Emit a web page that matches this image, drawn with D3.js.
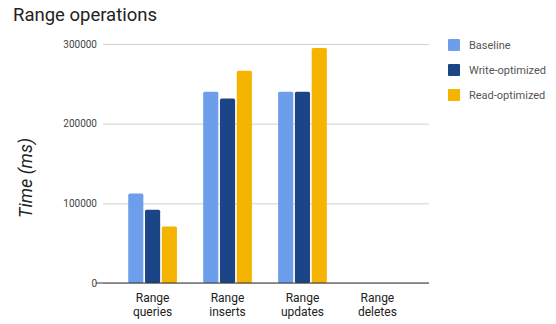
<!DOCTYPE html>
<html>
<head>
<meta charset="utf-8">
<script src="https://cdn.jsdelivr.net/npm/d3@7"></script>
<style>
  html, body { margin: 0; padding: 0; background: #fff; }
  svg { display: block; font-family: Roboto, "Noto Sans", sans-serif; }
</style>
</head>
<body>
<svg id="chart" width="556" height="324"></svg>
<script>
const categories = ["Range queries", "Range inserts", "Range updates", "Range deletes"];
const seriesNames = ["Baseline", "Write-optimized", "Read-optimized"];
const baseline = [112500, 240000, 240000, 0];
const writeOptimized = [92000, 231500, 240000, 0];
const readOptimized = [71000, 266500, 295000, 0];
const yTicks = [0, 100000, 200000, 300000];
const colors = ["#6d9eeb", "#1c4587", "#f4b400"];

const seriesValues = [baseline, writeOptimized, readOptimized];

const svg = d3.select("#chart");
const plotLeft = 103, plotRight = 429, plotTop = 44, plotBottom = 283;

const x = d3.scaleBand().domain(categories).range([102, 428]).paddingInner(0.35).paddingOuter(0.35);
const x1 = d3.scaleBand().domain(seriesNames).range([0, x.bandwidth()]).paddingInner(0.1);
const y = d3.scaleLinear().domain([0, 300000]).range([plotBottom, plotTop]);

// Title
svg.append("text").attr("x", 13).attr("y", 21)
  .attr("font-size", 18.5).attr("fill", "#222").text("Range operations");

// Gridlines
const yAxis = d3.axisLeft(y).tickValues(yTicks).tickSize(0).tickPadding(6).tickFormat(d3.format("d"));
const gy = svg.append("g").attr("transform", `translate(${plotLeft},0)`).call(yAxis);
gy.select(".domain").remove();
gy.selectAll(".tick text").attr("font-size", 10).attr("fill", "#444").attr("font-family", "Roboto, sans-serif");
gy.selectAll(".tick").append("line")
  .attr("x1", 0).attr("x2", plotRight - plotLeft)
  .attr("stroke", "#d0d0d0").attr("stroke-width", 1);

// Bars
const groups = svg.append("g").selectAll("g").data(categories).join("g")
  .attr("transform", d => `translate(${x(d)},0)`);
groups.selectAll("rect").data((c, i) => seriesNames.map((s, j) => ({ s, j, v: seriesValues[j][i] })))
  .join("rect")
  .attr("x", d => x1(d.s))
  .attr("width", x1.bandwidth())
  .attr("y", d => y(d.v))
  .attr("height", d => y(0) - y(d.v))
  .attr("rx", 1.5)
  .attr("fill", d => colors[d.j]);

// Baseline axis
const xAxis = d3.axisBottom(x).tickSize(0).tickPadding(10);
const gx = svg.append("g").attr("transform", `translate(0,${plotBottom})`).call(xAxis);
gx.select(".domain").remove();
gx.append("line").attr("x1", plotLeft - 7).attr("x2", plotRight)
  .attr("stroke", "#333").attr("stroke-width", 1.2);
gx.selectAll(".tick text").each(function(d) {
  const t = d3.select(this);
  const parts = d.split(" ");
  t.text(null).attr("font-size", 12).attr("fill", "#222").attr("font-family", "Roboto, sans-serif");
  parts.forEach((p, k) => {
    t.append("tspan").attr("x", 0).attr("dy", k === 0 ? "0.71em" : "1.2em").text(p);
  });
});

// Y axis title
svg.append("text")
  .attr("transform", "translate(32,178) rotate(-90)")
  .attr("text-anchor", "middle")
  .attr("font-size", 18).attr("font-style", "italic").attr("fill", "#222")
  .text("Time (ms)");

// Legend
const legend = svg.append("g").selectAll("g").data(seriesNames).join("g")
  .attr("transform", (d, i) => `translate(448,${39 + i * 25})`);
legend.append("rect").attr("width", 12).attr("height", 12).attr("rx", 1)
  .attr("fill", (d, i) => colors[i]);
legend.append("text").attr("x", 21).attr("y", 10)
  .attr("font-size", 11).attr("fill", "#555").text(d => d);
</script>
</body>
</html>
